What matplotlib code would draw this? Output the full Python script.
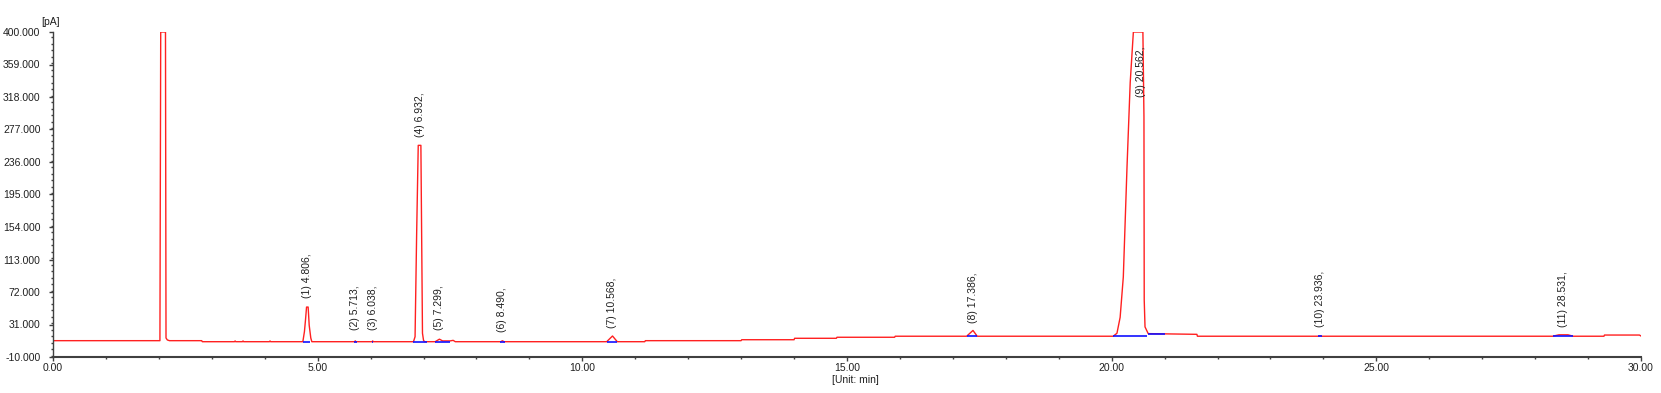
import matplotlib.pyplot as plt
from matplotlib.ticker import MultipleLocator, FormatStrFormatter

# detector trace (time in min, signal in pA)
trace_t = [0.00, 2.02, 2.035, 2.125, 2.135, 2.16, 2.20, 2.81, 2.82,
           3.43, 3.44, 3.45, 3.58, 3.59, 3.60, 4.09, 4.10, 4.11,
           4.72, 4.75, 4.77, 4.79, 4.82, 4.84, 4.87, 4.89,
           5.70, 5.71, 5.72, 6.03, 6.04, 6.05,
           6.81, 6.84, 6.87, 6.90, 6.95, 6.98, 7.00, 7.02,
           7.22, 7.30, 7.36, 7.50, 7.56, 7.60,
           8.46, 8.49, 8.52,
           10.46, 10.57, 10.66, 11.18, 11.19, 13.00, 13.01, 14.00, 14.01,
           14.80, 14.81, 15.90, 15.91,
           17.26, 17.38, 17.46,
           20.03, 20.10, 20.16, 20.22, 20.29, 20.35, 20.41, 20.59, 20.61,
           20.615, 20.63, 20.69, 21.61, 21.62,
           23.92, 23.94, 23.96,
           28.33, 28.45, 28.62, 28.72, 29.30, 29.31, 29.97, 30.00]
trace_y = [10.6, 10.6, 400.0, 400.0, 14.0, 11.5, 10.6, 10.6, 9.3,
           9.3, 10.3, 9.3, 9.3, 10.3, 9.3, 9.3, 10.3, 9.3,
           9.3, 22.0, 36.7, 53.0, 53.0, 30.0, 14.0, 9.3,
           9.3, 10.4, 9.3, 9.3, 10.3, 9.3,
           9.3, 15.6, 146.0, 257.0, 257.0, 20.0, 11.0, 9.3,
           9.3, 12.5, 10.3, 10.3, 11.0, 9.3,
           9.3, 10.5, 9.3,
           9.3, 16.5, 9.3, 9.3, 10.6, 10.6, 11.8, 11.8, 13.6,
           13.6, 14.9, 14.9, 16.2,
           16.2, 23.5, 16.2,
           16.2, 20.0, 40.0, 91.0, 230.0, 336.0, 400.0, 400.0, 293.0,
           62.0, 28.0, 19.5, 18.6, 16.2,
           16.2, 16.8, 16.2,
           16.2, 18.0, 18.0, 16.2, 16.2, 17.7, 17.7, 16.5]

# integration baselines (start, end, level)
base_start = [4.73, 5.69, 6.02, 6.80, 7.22, 8.45, 10.46, 17.26, 20.03, 20.68, 23.90, 28.33]
base_end = [4.85, 5.74, 6.05, 7.06, 7.50, 8.54, 10.66, 17.46, 20.66, 21.00, 23.97, 28.72]
base_level = [9.3, 9.3, 9.3, 9.3, 9.3, 9.3, 9.3, 16.2, 16.2, 18.6, 16.2, 16.2]

# peak labels
peak_rt = [4.806, 5.713, 6.038, 6.932, 7.299, 8.490, 10.568, 17.386, 20.562, 23.936, 28.531]
label_y = [64.0, 24.0, 24.0, 267.0, 24.0, 22.0, 26.5, 33.0, 318.0, 28.0, 28.0]


def main():
    plt.rcParams['font.family'] = ['Liberation Sans', 'DejaVu Sans']
    fig = plt.figure(figsize=(16.61, 3.93), dpi=100)
    ax = fig.add_axes([53 / 1661, 1 - 357 / 393, 1588 / 1661, 325 / 393])

    ax.plot(trace_t, trace_y, color='#ff2020', lw=1.0, zorder=2)
    ax.hlines(base_level, base_start, base_end, color='#1010ff', lw=1.2, zorder=3)

    for i, rt in enumerate(peak_rt):
        ax.text(rt, label_y[i], f'({i + 1}) {rt:.3f},', rotation=90, ha='center',
                va='bottom', fontsize=7.5, color='#202020')

    ax.set_xlim(0, 30)
    ax.set_ylim(-10, 400)
    ax.xaxis.set_major_locator(MultipleLocator(5))
    ax.xaxis.set_minor_locator(MultipleLocator(1))
    ax.xaxis.set_major_formatter(FormatStrFormatter('%.2f'))
    ax.set_yticks([-10 + 41 * k for k in range(11)])
    ax.yaxis.set_minor_locator(MultipleLocator(8.2))
    ax.yaxis.set_major_formatter(FormatStrFormatter('%.3f'))

    for s in ['top', 'right']:
        ax.spines[s].set_visible(False)
    for s in ['left', 'bottom']:
        ax.spines[s].set_color('#404040')
    ax.spines['left'].set_linewidth(1.0)
    ax.spines['bottom'].set_linewidth(1.5)

    ax.tick_params(which='major', length=3, width=1, color='#404040',
                   labelsize=7.5, labelcolor='#202020')
    ax.tick_params(axis='y', which='major', pad=6)
    ax.tick_params(axis='x', which='major', pad=1.5)
    ax.tick_params(which='minor', length=1.5, width=1, color='#404040')

    fig.text(50.7 / 1661, 1 - 21.7 / 393, '[pA]', ha='center', va='center',
             fontsize=7.5, color='#202020')
    fig.text(855 / 1661, 1 - 380 / 393, '[Unit: min]', ha='center', va='center',
             fontsize=7.5, color='#202020')

    fig.savefig('out.png', dpi=100)


if __name__ == "__main__":
    main()
